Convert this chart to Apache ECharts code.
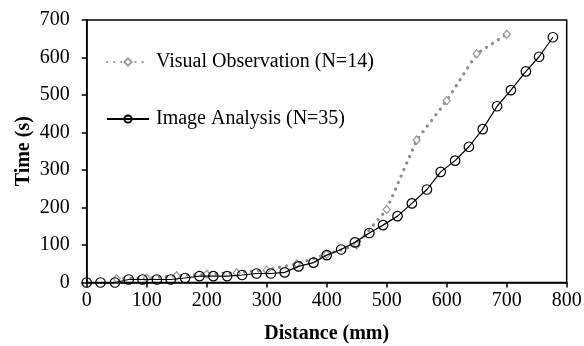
<!DOCTYPE html>
<html>
<head>
<meta charset="utf-8">
<script src="https://cdn.jsdelivr.net/npm/echarts@6/dist/echarts.min.js"></script>
<style>html,body{margin:0;padding:0;background:#fff}#c{width:584px;height:346px}</style>
</head>
<body>
<div id="c"></div>
<script>
var visualDist = [50, 100, 150, 200, 250, 300, 350, 400, 450, 500, 550, 600, 650, 700];
var visualTime = [10, 12, 18, 22, 26, 33, 50, 75, 100, 195, 380, 485, 610, 662];
var imageDist = [0, 23, 47, 70, 93, 117, 140, 164, 188, 211, 234, 259, 283, 307, 330, 353, 378, 400, 424, 447, 471, 494, 518, 542, 567, 590, 614, 637, 660, 684, 707, 732, 754, 777];
var imageTime = [0, 0, 0, 8, 8, 8, 8, 12, 17, 17, 17, 20, 24, 24, 27, 43, 53, 73, 88, 107, 132, 153, 177, 211, 248, 295, 325, 362, 409, 470, 513, 563, 602, 654];
var xTicks = [0, 100, 200, 300, 400, 500, 600, 700, 800];
var yTicks = [0, 100, 200, 300, 400, 500, 600, 700];
var seriesNames = ['Visual Observation (N=14)', 'Image Analysis (N=35)'];

function pairs(xs, ys) { return xs.map(function (x, i) { return [x, ys[i]]; }); }

var font = 'Liberation Serif, Times New Roman, serif';
var chart = echarts.init(document.getElementById('c'), null, { renderer: 'canvas' });
chart.setOption({
  animation: false,
  backgroundColor: '#fff',
  grid: { left: 86.7, right: 17.3, top: 20, bottom: 63.5, show: true, borderColor: '#000', borderWidth: 1.5, backgroundColor: 'transparent', containLabel: false, outerBoundsMode: 'none' },
  legend: {
    orient: 'vertical', left: 106, top: 52, padding: 0, itemGap: 37,
    itemWidth: 42, itemHeight: 9,
    textStyle: { fontFamily: font, fontSize: 20, color: '#000', padding: [0, 0, 0, 2] },
    data: seriesNames
  },
  xAxis: {
    type: 'value', min: xTicks[0], max: xTicks[xTicks.length - 1], interval: 100,
    name: 'Distance (mm)', nameLocation: 'middle', nameGap: 41, nameMoveOverlap: false,
    nameTextStyle: { fontFamily: font, fontSize: 20, fontWeight: 'bold', color: '#000' },
    axisLine: { show: true, lineStyle: { color: '#000', width: 1.5 } },
    axisTick: { show: true, inside: false, length: 5, lineStyle: { color: '#000', width: 1.5 } },
    axisLabel: { fontFamily: font, fontSize: 20, color: '#000', margin: 8 },
    splitLine: { show: false }
  },
  yAxis: {
    type: 'value', min: yTicks[0], max: yTicks[yTicks.length - 1], interval: 100,
    name: 'Time (s)', nameLocation: 'middle', nameGap: 53, nameRotate: 90, nameMoveOverlap: false,
    nameTextStyle: { fontFamily: font, fontSize: 20, fontWeight: 'bold', color: '#000' },
    axisLine: { show: true, lineStyle: { color: '#000', width: 1.5 } },
    axisTick: { show: true, inside: false, length: 5, lineStyle: { color: '#000', width: 1.5 } },
    axisLabel: { fontFamily: font, fontSize: 20, color: '#000', margin: 17 },
    splitLine: { show: false }
  },
  series: [
    {
      name: seriesNames[0], type: 'line', data: pairs(visualDist, visualTime),
      symbol: 'diamond', symbolSize: [7, 8],
      lineStyle: { color: '#8c8c8c', width: 3.2, type: [0.1, 7], cap: 'round' },
      itemStyle: { color: '#fff', borderColor: '#9a9a9a', borderWidth: 1.3 },
      z: 2
    },
    {
      name: seriesNames[1], type: 'line', data: pairs(imageDist, imageTime),
      symbol: 'circle', symbolSize: 9.5,
      lineStyle: { color: '#000', width: 1.2 },
      itemStyle: { color: 'rgba(255,255,255,0)', borderColor: '#000', borderWidth: 1.2 },
      z: 3
    }
  ]
});
</script>
</body>
</html>
